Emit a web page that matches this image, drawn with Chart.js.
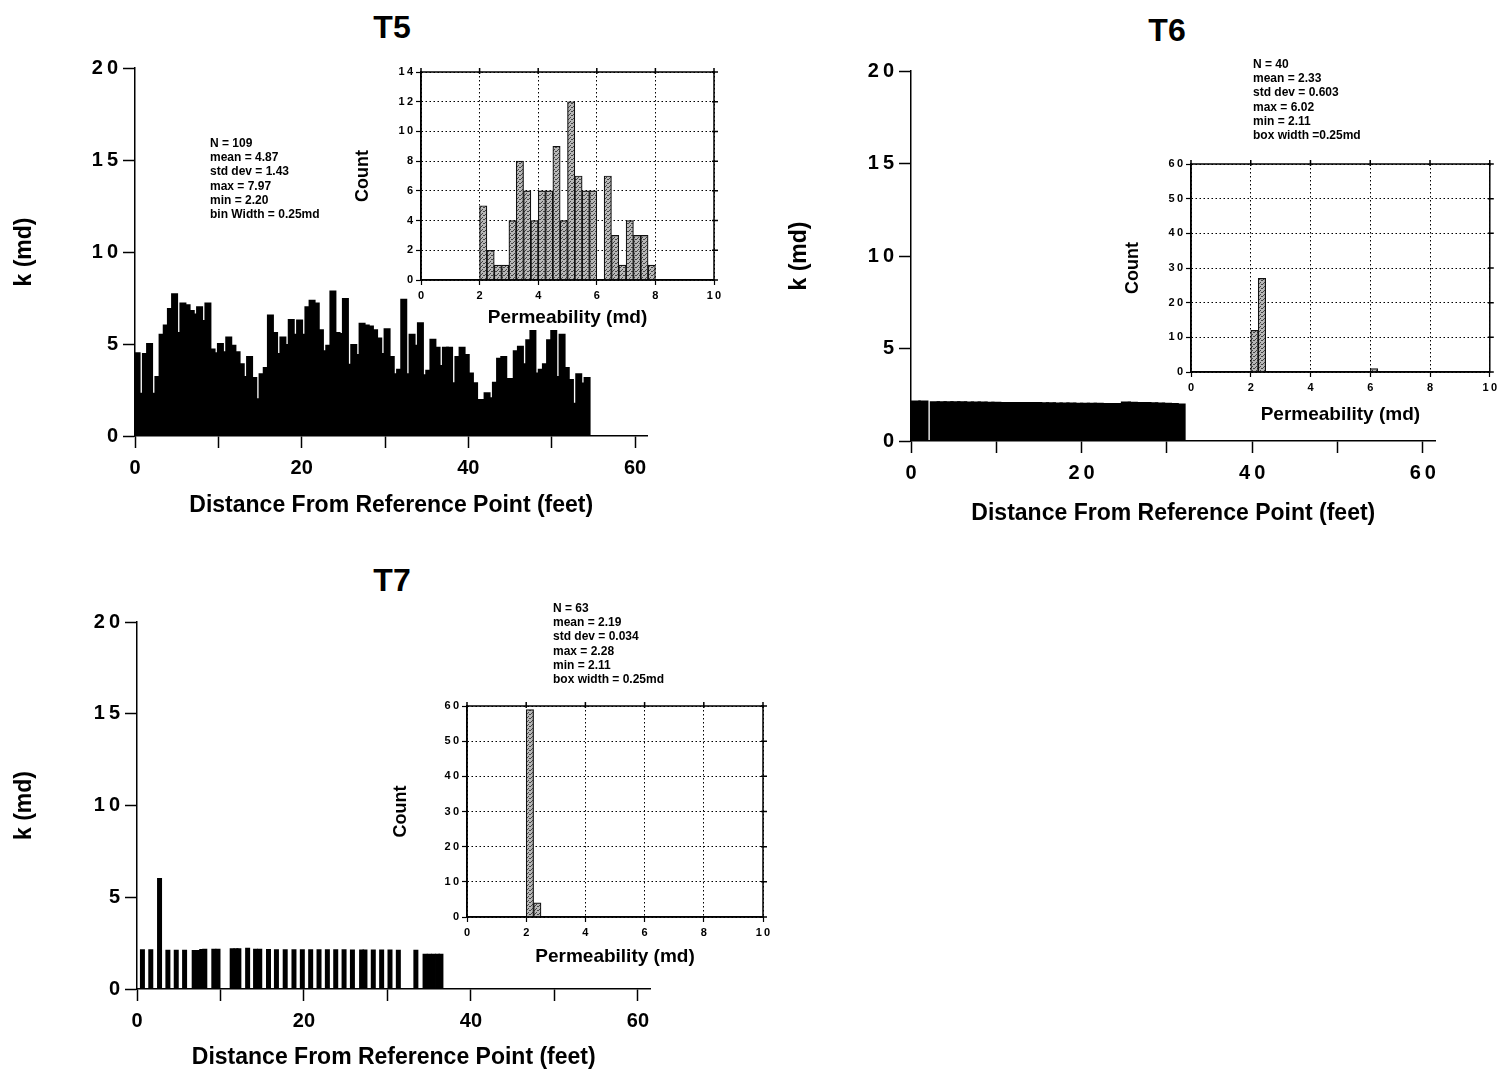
<!DOCTYPE html>
<html>
<head>
<meta charset="utf-8">
<title>Permeability profiles T5, T6, T7</title>
<script src="https://cdn.jsdelivr.net/npm/chart.js@4.4.1/dist/chart.umd.min.js"></script>
<style>
  body { margin: 0; background: #fff; }
  #page { position: relative; width: 1501px; height: 1074px; overflow: hidden; font-family: 'Liberation Sans', Arial, sans-serif; }
  canvas { position: absolute; }
  .title { position: absolute; font-weight: bold; font-size: 32px; transform: translate(-50%, -50%); font-family: 'Liberation Sans Narrow', 'Liberation Sans', Arial, sans-serif; }
  .stats { position: absolute; font-weight: bold; font-size: 12px; line-height: 14.2px; white-space: pre; font-family: 'Liberation Sans Narrow', 'Liberation Sans', Arial, sans-serif; }
</style>
</head>
<body>
<div id="page">
  <canvas id="t5main" width="660" height="480" style="left:0px;top:50px"></canvas>
  <canvas id="t5hist" width="390" height="282" style="left:340px;top:55px"></canvas>
  <canvas id="t6main" width="680" height="490" style="left:780px;top:50px"></canvas>
  <canvas id="t6hist" width="391" height="282" style="left:1110px;top:148px"></canvas>
  <canvas id="t7main" width="670" height="474" style="left:0px;top:600px"></canvas>
  <canvas id="t7hist" width="390" height="285" style="left:386px;top:690px"></canvas>

  <div class="title" style="left:392px;top:27px">T5</div>
  <div class="title" style="left:1167px;top:30px">T6</div>
  <div class="title" style="left:392px;top:580px">T7</div>

  <div class="stats" id="t5stats" style="left:210px;top:136px"></div>
  <div class="stats" id="t6stats" style="left:1253px;top:57px"></div>
  <div class="stats" id="t7stats" style="left:553px;top:601px"></div>
</div>
<script>
// ---- T5 profile (k in md every 0.5 ft) ----
const t5Distance = [0.25, 0.75, 1.25, 1.75, 2.25, 2.75, 3.25, 3.75, 4.25, 4.75,
  5.25, 5.75, 6.25, 6.75, 7.25, 7.75, 8.25, 8.75, 9.25, 9.75,
  10.25, 10.75, 11.25, 11.75, 12.25, 12.75, 13.25, 13.75, 14.25, 14.75,
  15.25, 15.75, 16.25, 16.75, 17.25, 17.75, 18.25, 18.75, 19.25, 19.75,
  20.25, 20.75, 21.25, 21.75, 22.25, 22.75, 23.25, 23.75, 24.25, 24.75,
  25.25, 25.75, 26.25, 26.75, 27.25, 27.75, 28.25, 28.75, 29.25, 29.75,
  30.25, 30.75, 31.25, 31.75, 32.25, 32.75, 33.25, 33.75, 34.25, 34.75,
  35.25, 35.75, 36.25, 36.75, 37.25, 37.75, 38.25, 38.75, 39.25, 39.75,
  40.25, 40.75, 41.25, 41.75, 42.25, 42.75, 43.25, 43.75, 44.25, 44.75,
  45.25, 45.75, 46.25, 46.75, 47.25, 47.75, 48.25, 48.75, 49.25, 49.75,
  50.25, 50.75, 51.25, 51.75, 52.25, 52.75, 53.25, 53.75, 54.25];
const t5K = [4.5, 2.3, 4.45, 5.0, 2.3, 3.2, 5.5, 6.0, 6.9, 7.7,
  5.6, 7.2, 7.1, 6.8, 6.6, 7.0, 6.25, 7.2, 4.7, 4.5,
  5.0, 4.55, 5.35, 4.9, 4.55, 3.9, 3.2, 4.3, 3.15, 2.0,
  3.35, 3.7, 6.55, 5.6, 4.45, 5.35, 4.95, 6.3, 5.5, 6.28,
  5.5, 7.0, 7.35, 7.2, 5.75, 4.6, 4.9, 7.85, 5.6, 5.55,
  7.45, 3.87, 4.95, 4.4, 6.1, 6.0, 5.95, 5.75, 5.3, 4.45,
  5.8, 4.3, 3.35, 3.6, 7.4, 3.35, 5.5, 4.9, 6.13, 3.3,
  3.55, 5.23, 4.8, 3.8, 4.8, 4.8, 2.87, 4.3, 4.8, 4.4,
  3.4, 2.87, 1.96, 1.96, 2.32, 2.05, 2.9, 4.2, 4.3, 3.1,
  3.1, 4.6, 4.85, 3.9, 5.2, 5.7, 3.4, 3.6, 3.9, 5.2,
  5.7, 3.2, 5.5, 3.7, 3.05, 1.75, 3.35, 2.85, 3.15];

// ---- T5 histogram (bin width 0.25 md) ----
const t5BinCenters = [2.125, 2.375, 2.625, 2.875, 3.125, 3.375, 3.625, 3.875, 4.125, 4.375, 4.625, 4.875,
  5.125, 5.375, 5.625, 5.875, 6.125, 6.375, 6.625, 6.875, 7.125, 7.375, 7.625, 7.875];
const t5Counts = [5, 2, 1, 1, 4, 8, 6, 4, 6, 6, 9, 4, 12, 7, 6, 6, 0, 7, 3, 1, 4, 3, 3, 1];
const t5Stats = ['N = 109', 'mean = 4.87', 'std dev = 1.43', 'max = 7.97', 'min = 2.20', 'bin Width = 0.25md'];

// ---- T6 profile ----
const t6Distance = [0.55, 1.45, 2.8, 3.6, 4.4, 5.2, 6.0, 6.8, 7.6, 8.4, 9.2, 10.0, 10.8, 11.6, 12.4,
  13.2, 14.0, 14.8, 15.6, 16.4, 17.2, 18.0, 18.8, 19.6, 20.4, 21.2, 22.0, 22.8, 23.6, 24.4,
  25.2, 26.0, 26.8, 27.6, 28.4, 29.2, 30.0, 30.8, 31.6];
const t6K = [2.13, 2.13, 2.1, 2.1, 2.1, 2.09, 2.09, 2.08, 2.08, 2.08, 2.07, 2.07, 2.06, 2.06, 2.06,
  2.05, 2.05, 2.05, 2.04, 2.04, 2.03, 2.03, 2.03, 2.02, 2.02, 2.01, 2.01, 2.0, 2.0, 2.0,
  2.08, 2.07, 2.06, 2.05, 2.04, 2.03, 2.02, 2.0, 1.97];
const t6BinCenters = [2.125, 2.375, 6.125];
const t6Counts = [12, 27, 1];
const t6Stats = ['N = 40', 'mean = 2.33', 'std dev = 0.603', 'max = 6.02', 'min = 2.11', 'box width =0.25md'];

// ---- T7 profile ----
const t7Distance = [0.65, 1.65, 2.7, 3.7, 4.7, 5.7, 6.85, 7.3, 7.75, 8.12, 9.2, 9.7,
  11.4, 11.85, 12.2, 13.25, 14.2, 14.7, 15.75, 16.7, 17.75, 18.8, 19.8, 20.8, 21.8,
  22.8, 23.8, 24.8, 25.8, 26.9, 27.3, 28.3, 29.3, 30.3, 31.3, 33.4,
  34.5, 35.0, 35.5, 36.0, 36.4];
const t7K = [2.17, 2.17, 6.05, 2.14, 2.14, 2.14, 2.12, 2.12, 2.18, 2.2, 2.2, 2.2,
  2.22, 2.22, 2.22, 2.25, 2.2, 2.2, 2.18, 2.17, 2.17, 2.17, 2.16, 2.16, 2.16,
  2.16, 2.16, 2.16, 2.15, 2.15, 2.15, 2.15, 2.15, 2.15, 2.14, 2.14,
  1.92, 1.92, 1.92, 1.92, 1.92];
const t7BinCenters = [2.125, 2.375];
const t7Counts = [59, 4];
const t7Stats = ['N = 63', 'mean = 2.19', 'std dev = 0.034', 'max = 2.28', 'min = 2.11', 'box width = 0.25md'];

Chart.defaults.font.family = "'Liberation Sans', Arial, sans-serif";
Chart.defaults.font.weight = 'bold';
Chart.defaults.color = '#000';

const spaced = v => String(v).split('').join('\u2009');
const plain = v => String(v);

function stipple() {
  const c = document.createElement('canvas');
  c.width = 4; c.height = 4;
  const g = c.getContext('2d');
  g.fillStyle = '#b8b8b8';
  g.fillRect(0, 0, 4, 4);
  g.fillStyle = '#444';
  g.fillRect(0, 0, 1, 1); g.fillRect(2, 2, 1, 1); g.fillRect(3, 0, 1, 1); g.fillRect(1, 3, 1, 1);
  return g.createPattern(c, 'repeat');
}

// box around the inset histograms, with small ticks on top and right
const framePlugin = {
  id: 'frame',
  afterDatasetsDraw(chart) {
    const { ctx, chartArea: a, scales } = chart;
    ctx.save();
    ctx.strokeStyle = '#000';
    ctx.lineWidth = 1.5;
    ctx.strokeRect(a.left, a.top, a.right - a.left, a.bottom - a.top);
    ctx.beginPath();
    scales.x.ticks.forEach(t => {
      const px = scales.x.getPixelForValue(t.value);
      ctx.moveTo(px, a.top - 4); ctx.lineTo(px, a.top + 2);
    });
    scales.y.ticks.forEach(t => {
      const py = scales.y.getPixelForValue(t.value);
      ctx.moveTo(a.right - 2, py); ctx.lineTo(a.right + 4, py);
    });
    ctx.stroke();
    ctx.restore();
  }
};

function mainChart(id, xs, ks, o) {
  const ds = {
    data: xs.map((x, i) => ({ x: x, y: ks[i] })),
    backgroundColor: '#000',
    borderWidth: 0,
    inflateAmount: 1,
    barPercentage: 1.2,
    categoryPercentage: 1
  };
  if (o.barThickness) {
    ds.barThickness = o.barThickness;
    ds.inflateAmount = 0;
  }
  return new Chart(document.getElementById(id), {
    type: 'bar',
    data: { datasets: [ds] },
    options: {
      responsive: false,
      animation: false,
      layout: { padding: { top: o.padTop, right: o.padRight, left: 0, bottom: 0 } },
      plugins: { legend: { display: false }, tooltip: { enabled: false } },
      scales: {
        x: {
          type: 'linear', min: 0, max: 61.5, offset: false,
          ticks: {
            stepSize: 10, includeBounds: false, autoSkip: false, maxRotation: 0, padding: 8,
            font: { size: 20 },
            callback: v => (v % 20 === 0 ? o.xFmt(v) : '')
          },
          grid: { offset: false, drawOnChartArea: false, tickLength: 12, tickColor: '#000', tickWidth: 1.5 },
          border: { color: '#000', width: 1.5 },
          title: { display: true, text: 'Distance From Reference Point (feet)', font: { size: 23 }, padding: { top: 0, bottom: o.xTitlePad } },
          afterFit: s => { s.height = o.xH; }
        },
        y: {
          min: 0, max: 20,
          ticks: { stepSize: 5, padding: 5, font: { size: 20 }, callback: v => spaced(v) },
          grid: { drawOnChartArea: false, tickLength: 12, tickColor: '#000', tickWidth: 1.5 },
          border: { color: '#000', width: 1.5 },
          title: { display: true, text: 'k (md)', font: { size: 23 }, padding: { top: o.yTitlePad, bottom: 0 } },
          afterFit: s => { s.width = o.yW; }
        }
      }
    }
  });
}

function histChart(id, centers, counts, o) {
  return new Chart(document.getElementById(id), {
    type: 'bar',
    data: {
      datasets: [{
        data: centers.map((x, i) => ({ x: x, y: counts[i] })),
        backgroundColor: stipple(),
        borderColor: '#111',
        borderWidth: 1.2,
        barPercentage: 1,
        categoryPercentage: 1
      }]
    },
    plugins: [framePlugin],
    options: {
      responsive: false,
      animation: false,
      layout: { padding: { top: o.padTop, right: o.padRight, left: 0, bottom: 0 } },
      plugins: { legend: { display: false }, tooltip: { enabled: false } },
      scales: {
        x: {
          type: 'linear', min: 0, max: 10, offset: false,
          ticks: { stepSize: 2, autoSkip: false, maxRotation: 0, padding: 4, font: { size: 11 }, callback: v => spaced(v) },
          grid: { offset: false, color: '#000', lineWidth: 1, tickLength: 5, tickColor: '#000', tickWidth: 1.2 },
          border: { color: '#000', width: 1.5, dash: [1.5, 2.5] },
          title: { display: true, text: 'Permeability (md)', font: { size: 19 }, padding: { top: 0, bottom: o.xTitlePad } },
          afterFit: s => { s.height = o.xH; }
        },
        y: {
          min: 0, max: o.yMax,
          ticks: { stepSize: o.yStep, padding: 3, font: { size: 11 }, callback: v => spaced(v) },
          grid: { color: '#000', lineWidth: 1, tickLength: 5, tickColor: '#000', tickWidth: 1.2 },
          border: { color: '#000', width: 1.5, dash: [1.5, 2.5] },
          title: { display: true, text: 'Count', font: { size: 18 }, padding: { top: o.yTitlePad, bottom: 0 } },
          afterFit: s => { s.width = 81; }
        }
      }
    }
  });
}

mainChart('t5main', t5Distance, t5K, { padTop: 18, padRight: 12.5, yW: 135, xH: 94, yTitlePad: 11, xTitlePad: 11, xFmt: plain });
mainChart('t6main', t6Distance, t6K, { padTop: 21, padRight: 24.4, yW: 131, xH: 99, yTitlePad: 6, xTitlePad: 13, xFmt: spaced });
mainChart('t7main', t7Distance, t7K, { padTop: 22, padRight: 19.5, yW: 137, xH: 85, yTitlePad: 11, xTitlePad: 3, xFmt: plain, barThickness: 5 });

histChart('t5hist', t5BinCenters, t5Counts, { padTop: 17, padRight: 16, xH: 57, yMax: 14, yStep: 2, yTitlePad: 12, xTitlePad: 7.5 });
histChart('t6hist', t6BinCenters, t6Counts, { padTop: 16, padRight: 9, xH: 58, yMax: 60, yStep: 10, yTitlePad: 12, xTitlePad: 3.5 });
histChart('t7hist', t7BinCenters, t7Counts, { padTop: 16, padRight: 13, xH: 58, yMax: 60, yStep: 10, yTitlePad: 4, xTitlePad: 6.5 });

document.getElementById('t5stats').textContent = t5Stats.join('\n');
document.getElementById('t6stats').textContent = t6Stats.join('\n');
document.getElementById('t7stats').textContent = t7Stats.join('\n');
</script>
</body>
</html>
